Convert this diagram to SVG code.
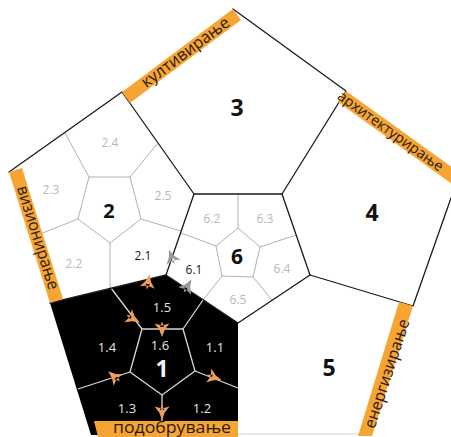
<svg xmlns="http://www.w3.org/2000/svg" width="451" height="437" viewBox="0 0 451 437">
<style>
.b{stroke:#1a1a1a;stroke-width:1.3;fill:none;stroke-linecap:round}
.s{stroke:#b0b0b0;stroke-width:1;fill:none}
.w{stroke:#d8d8d8;stroke-width:1.3;fill:none}
.band{fill:#f6a535}
.bt{font-family:"Open Sans","Liberation Sans",sans-serif;font-size:16.5px;fill:#2a1a0a;text-anchor:middle;dominant-baseline:middle}
.lg{font-family:"Open Sans","Liberation Sans",sans-serif;font-size:12px;fill:#b8b8b8;text-anchor:middle;dominant-baseline:central}
.ld{font-family:"Open Sans","Liberation Sans",sans-serif;font-size:12px;fill:#1a1a1a;text-anchor:middle;dominant-baseline:central}
.lw{font-family:"Open Sans","Liberation Sans",sans-serif;font-size:13px;fill:#e4e4e4;text-anchor:middle;dominant-baseline:central}
.big{font-family:"Open Sans","Liberation Sans",sans-serif;font-weight:700;fill:#111;text-anchor:middle;dominant-baseline:central}
.bigw{font-family:"Open Sans","Liberation Sans",sans-serif;font-weight:700;fill:#f2f2f2;text-anchor:middle;dominant-baseline:central}
.os{fill:#ef9d5c}
.gs{fill:#9a9a9a}
</style>
<defs>
<path id="star" d="M0,-9 L2.8,-1.5 L7.5,4.5 L0,2.5 L-7.5,4.5 L-2.8,-1.5 Z M-2,1 L0,6.5 L2,1 Z"/>
</defs>
<rect width="451" height="437" fill="#ffffff"/>

<g id="region1">
<polygon points="50,303 166,275 238,323 238,435 91,435" fill="#000"/>
</g>
<g id="region2"><polygon points="9,172 122,92 194,194 166,275 50,303" fill="none"/></g>
<g id="region3"><polygon points="122,92 233,9 346,91 282,194 194,194" fill="none"/></g>
<g id="region4"><polygon points="346,91 451,166.5 451,198 413,306 310,275 282,194" fill="none"/></g>
<g id="region5"><polygon points="413,306 372,435 238,435 238,323 310,275" fill="none"/></g>
<g id="region6"><polygon points="194,194 282,194 310,275 238,323 166,275" fill="none"/></g>

<g id="connectors">
<polygon class="s" points="89,177 130,177 141,219 110,243 78,219"/>
<path class="s" d="M65,133 L89,177 M157,144 L130,177 M181,231 L141,219 M110,289 L110,243 M30,238 L78,219"/>
<polygon class="s" points="238,228 260,247 253,277 222,276 216,246"/>
<path class="s" d="M238,194 L238,228 M296,235 L260,247 M272,300 L253,277 M203,300 L222,276 M181,233 L216,246"/>
<polygon class="w" points="142,329 183,329 195,371 162,395 130,372"/>
<path class="w" d="M111,288 L142,329 M203,300 L183,329 M238,388 L195,371 M162,430 L162,395 M78,389 L130,372"/>
<path class="b" d="M9,172 L122,92 M233,9 L346,91 M451,198 L413,306 M122,92 L194,194 M346,91 L282,194 M413,306 L310,275 M166,275 L50,303"/>
<polygon class="b" points="194,194 282,194 310,275 238,323 166,275"/>
<path d="M238,434 L372,434" stroke="#d0d0d0" stroke-width="1"/>
</g>

<g id="bands">
<polygon class="band" points="122,92 233,9 241,20 130,103"/>
<polygon class="band" points="346,91 451,166.5 451,183.3 338,102"/>
<polygon class="band" points="413,306 372,436 358,436 399,302"/>
<polygon class="band" points="94,421 238,421 238,437 98,437"/>
<polygon class="band" points="9,172 50,303 63,299 22,168"/>
<text class="bt" transform="translate(186,53) rotate(-36.8)" textLength="106" lengthAdjust="spacingAndGlyphs">култивирање</text>
<text class="bt" transform="translate(390,132) rotate(35.7)" style="font-size:14.5px">архитектурирање</text>
<text class="bt" transform="translate(388,374) rotate(-72)" textLength="114" lengthAdjust="spacingAndGlyphs">енергизирање</text>
<text class="bt" x="172" y="429" textLength="118" lengthAdjust="spacingAndGlyphs">подобрување</text>
<text class="bt" transform="translate(37,238) rotate(72.6)" textLength="108" lengthAdjust="spacingAndGlyphs">визионирање</text>
</g>

<g id="labels">
<text class="big" x="237" y="107" font-size="23">3</text>
<text class="big" x="372" y="212" font-size="23">4</text>
<text class="big" x="329" y="367" font-size="23">5</text>
<text class="big" x="109" y="210" font-size="20">2</text>
<text class="big" x="237" y="256" font-size="21">6</text>
<text class="bigw" x="162" y="368" font-size="23">1</text>
<text class="lg" x="110" y="142">2.4</text>
<text class="lg" x="51" y="189">2.3</text>
<text class="lg" x="163" y="195">2.5</text>
<text class="lg" x="74" y="263">2.2</text>
<text class="ld" x="143" y="255">2.1</text>
<text class="lg" x="212" y="218">6.2</text>
<text class="lg" x="265" y="218">6.3</text>
<text class="lg" x="282" y="268">6.4</text>
<text class="lg" x="238" y="299">6.5</text>
<text class="ld" x="194" y="269">6.1</text>
<text class="lw" x="162" y="307">1.5</text>
<text class="lw" x="160" y="345">1.6</text>
<text class="lw" x="107" y="347">1.4</text>
<text class="lw" x="215" y="347">1.1</text>
<text class="lw" x="127" y="408">1.3</text>
<text class="lw" x="202" y="408">1.2</text>
</g>

<g id="arrows">
<use href="#star" class="os" transform="translate(148,283) rotate(10)"/>
<use href="#star" class="os" transform="translate(132,318) rotate(120)"/>
<use href="#star" class="os" transform="translate(162,328) rotate(180)"/>
<use href="#star" class="os" transform="translate(115,377) rotate(-50)"/>
<use href="#star" class="os" transform="translate(213,377) rotate(110)"/>
<use href="#star" class="os" transform="translate(162,411) rotate(180)"/>
<use href="#star" class="gs" transform="translate(172,258) rotate(-20)"/>
<use href="#star" class="gs" transform="translate(187,287) rotate(30)"/>
</g>
</svg>
